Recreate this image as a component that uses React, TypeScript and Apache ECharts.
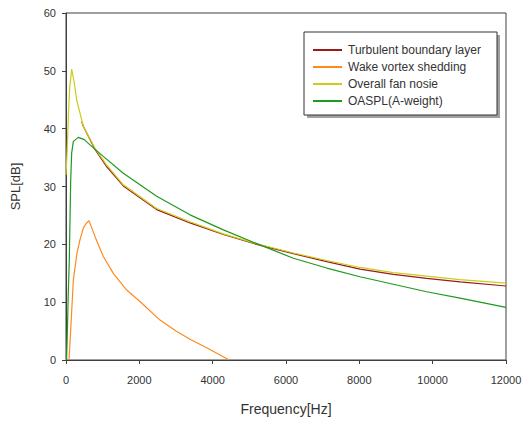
import React, { useEffect, useRef } from "react";
import * as echarts from "echarts";

const xTicks = [0, 2000, 4000, 6000, 8000, 10000, 12000];
const yTicks = [0, 10, 20, 30, 40, 50, 60];

const seriesNames = ["Turbulent boundary layer", "Wake vortex shedding", "Overall fan nosie", "OASPL(A-weight)"];

const tblFreq = [430, 472, 791, 1100, 1563, 2473, 3382, 4291, 5200, 6200, 7110, 8018, 8927, 9836, 10745, 12000];
const tblVal = [41.2, 40.4, 36.4, 33.5, 30.1, 26.0, 23.7, 21.7, 20.0, 18.4, 17.0, 15.7, 14.8, 14.1, 13.5, 12.8];

const wakeFreq = [82, 128, 200, 300, 382, 472, 550, 627, 800, 1018, 1300, 1655, 2000, 2564, 3000, 3382, 3900, 4450];
const wakeVal = [0, 5.2, 13.8, 18.5, 20.8, 22.8, 23.6, 24.1, 21.2, 17.9, 14.9, 12.1, 10.2, 6.9, 5.0, 3.6, 1.9, 0];

const overallFreq = [0, 30, 64, 100, 155, 220, 291, 472, 791, 1100, 1563, 2473, 3382, 4291, 5200, 6200, 7110, 8018, 8927, 9836, 10745, 12000];
const overallVal = [32, 36, 42.1, 47, 50.3, 48.2, 45.0, 40.4, 36.6, 33.8, 30.3, 26.2, 23.9, 21.8, 20.1, 18.5, 17.2, 16.0, 15.1, 14.5, 13.9, 13.3];

const oaFreq = [15, 36, 60, 90, 128, 155, 200, 336, 500, 654, 1000, 1563, 2473, 3382, 4291, 5290, 6200, 7110, 8018, 8927, 9836, 10745, 12000];
const oaVal = [0, 4.6, 11, 17.3, 31, 35.8, 37.8, 38.5, 38.1, 37.2, 35.3, 32.3, 28.3, 25.1, 22.5, 19.9, 17.6, 15.9, 14.4, 13.1, 11.8, 10.7, 9.1];

const colors = ["#9A1A1A", "#FF8A1A", "#CCCC1A", "#1E9A1E"];

const zip = (xs: number[], ys: number[]) => xs.map((x, i) => [x, ys[i]]);

export default function App() {
  const ref = useRef<HTMLDivElement>(null);
  useEffect(() => {
    document.body.style.margin = "0";
    const chart = echarts.init(ref.current!, null, { renderer: "svg" });
    const font = "Liberation Sans, Arial, sans-serif";
    const datasets = [zip(tblFreq, tblVal), zip(wakeFreq, wakeVal), zip(overallFreq, overallVal), zip(oaFreq, oaVal)];
    chart.setOption({
      animation: false,
      backgroundColor: "#ffffff",
      textStyle: { fontFamily: font },
      grid: { left: 66, top: 13, right: 25, bottom: 63, show: true, borderColor: "#404040", borderWidth: 1 },
      xAxis: {
        type: "value",
        min: xTicks[0],
        max: xTicks[xTicks.length - 1],
        interval: 2000,
        name: "Frequency[Hz]",
        nameLocation: "middle",
        nameGap: 42,
        nameTextStyle: { fontSize: 14, color: "#333", fontFamily: font },
        axisLine: { show: true, lineStyle: { color: "#404040", width: 1 } },
        axisTick: { show: true, length: 4, lineStyle: { color: "#404040" } },
        axisLabel: { fontSize: 11, color: "#333", margin: 14, fontFamily: font, formatter: (v: number) => String(v) },
        splitLine: { show: false },
      },
      yAxis: {
        type: "value",
        min: yTicks[0],
        max: yTicks[yTicks.length - 1],
        interval: 10,
        name: "SPL[dB]",
        nameLocation: "middle",
        nameGap: 44,
        nameTextStyle: { fontSize: 13, color: "#333", fontFamily: font },
        axisLine: { show: true, lineStyle: { color: "#404040", width: 1 } },
        axisTick: { show: true, length: 4, lineStyle: { color: "#404040" } },
        axisLabel: { fontSize: 11, color: "#333", margin: 10, fontFamily: font },
        splitLine: { show: false },
      },
      legend: {
        orient: "vertical",
        left: 313,
        top: 43,
        itemGap: 3,
        itemWidth: 29,
        itemHeight: 2,
        icon: "rect",
        padding: 0,
        textStyle: { fontSize: 12, color: "#333", fontFamily: font, padding: [0, 0, 0, 1], lineHeight: 14 },
        data: seriesNames,
      },
      graphic: [
        { type: "rect", shape: { x: 307, y: 35, width: 193, height: 83 }, style: { fill: "#a0a0a0" }, z: 0 },
        { type: "rect", shape: { x: 304, y: 32, width: 193, height: 83 }, style: { fill: "#ffffff", stroke: "#333", lineWidth: 1 }, z: 1 },
      ],
      series: datasets.map((d, i) => ({
        name: seriesNames[i],
        type: "line",
        data: d,
        symbol: "none",
        smooth: false,
        lineStyle: { color: colors[i], width: 1.2 },
        itemStyle: { color: colors[i] },
        z: 2 + i,
      })),
    });
    return () => chart.dispose();
  }, []);
  return <div ref={ref} style={{ width: 531, height: 423 }} />;
}
